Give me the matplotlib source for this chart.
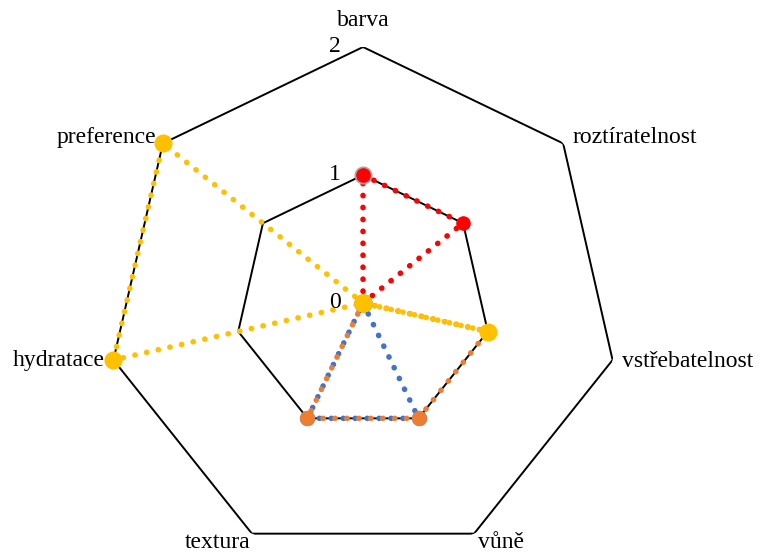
import numpy as np
import matplotlib
matplotlib.use("Agg")
import matplotlib.pyplot as plt

plt.rcParams['font.family'] = ['Liberation Serif', 'DejaVu Serif']

# categories (clockwise from top)
categories = ['barva', 'roztíratelnost', 'vstřebatelnost', 'vůně',
              'textura', 'hydratace', 'preference']

# series values, in drawing order
blue = [0, 0, 0, 1, 1, 0, 0]
orange = [0, 0, 1, 1, 1, 0, 0]
gray = [1, 0, 0, 0, 0, 0, 0]
red = [1, 1, 0, 0, 0, 0, 0]
yellow = [0, 0, 1, 0, 0, 2, 2]

# (values, colour, marker size, draw line?)
series = [(blue, '#4472C4', 11, True), (orange, '#ED7D31', 11, True),
          (gray, '#A5A5A5', 13, False), (red, '#FF0000', 10.5, True),
          (yellow, '#FFC000', 13, True)]

r_ticks = [0, 1, 2]

n = len(categories)
theta = np.linspace(0, 2 * np.pi, n, endpoint=False)
theta_c = np.append(theta, theta[0])

fig = plt.figure(figsize=(7.6, 5.52), dpi=100)
ax = fig.add_axes([0.1408, -0.0127, 0.6737, 0.9275], projection='polar')
ax.set_theta_offset(np.pi / 2)
ax.set_theta_direction(-1)
ax.set_ylim(0, 2)
ax.grid(False)
ax.spines['polar'].set_visible(False)
ax.set_xticks([])
ax.set_yticks([])
ax.patch.set_alpha(0)

# heptagon gridlines
for r in r_ticks[1:]:
    ax.plot(theta_c, [r] * (n + 1), color='black', lw=1.4, zorder=1)

# dotted series lines
for vals, col, ms, line in series:
    if not line:
        continue
    v = np.append(vals, vals[0])
    ax.plot(theta_c, v, color=col, lw=4.0, linestyle=(0, (0.05, 2.1)),
            dash_capstyle='round', zorder=2, clip_on=False)
# markers
for vals, col, ms, line in series:
    ax.plot(theta, vals, 'o', color=col, ms=ms, mew=0, zorder=3,
            clip_on=False)

# category labels
offsets = {
    'barva': (0, 27, 'center'),
    'roztíratelnost': (9, 6, 'left'),
    'vstřebatelnost': (9, -2, 'left'),
    'vůně': (4, -9, 'left'),
    'textura': (-2, -9, 'right'),
    'hydratace': (-9, -1, 'right'),
    'preference': (-7, 6, 'right'),
}
for t, lab in zip(theta, categories):
    dx, dy, ha = offsets[lab]
    ax.annotate(lab, xy=(t, 2), xytext=(dx, dy), textcoords='offset pixels',
                ha=ha, va='center', fontsize=17, annotation_clip=False)

# radial tick labels
for r in r_ticks:
    ax.annotate(str(r), xy=(0, r), xytext=(-22, 1), textcoords='offset pixels',
                ha='right', va='center', fontsize=17, annotation_clip=False)

fig.savefig('out.png', dpi=100)
